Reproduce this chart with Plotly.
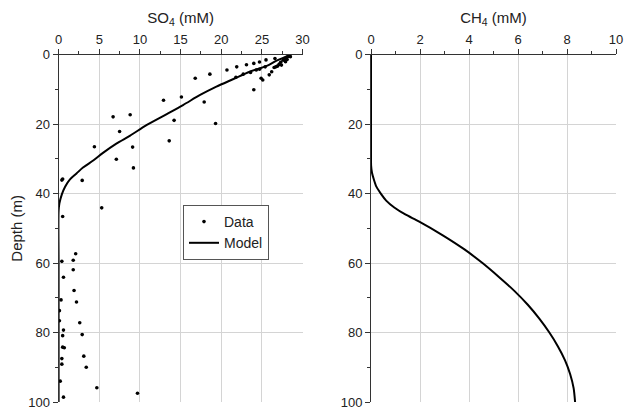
import plotly.graph_objects as go

# Measured sulfate data (SO4 in mM, depth in m)
so4_data = [16.8, 18.6, 20.7, 21.9, 23.1, 24.0, 24.7, 25.5, 26.6, 21.8, 22.7, 23.6, 24.3, 24.7,
            25.4, 24.9, 25.1, 24.0, 25.9, 26.2, 26.5, 26.7, 27.1, 27.3, 27.6, 27.8, 28.0, 28.2,
            28.4, 27.9, 28.1, 27.4, 26.9, 28.5,
            12.9, 15.1, 17.9, 19.3, 14.2, 13.6, 6.7, 8.8, 7.5, 9.1, 4.4, 7.1, 9.2, 0.4, 0.5,
            2.9, 5.3, 0.5, 2.1, 1.8, 0.4, 1.8, 0.6, 1.9, 2.2, 0.3, 0.1, 0.1, 2.6, 0.6, 2.9,
            0.5, 0.5, 0.7, 3.1, 0.4, 0.4, 3.4, 0.2, 4.7, 9.7, 0.6]
depth_data = [6.8, 5.6, 4.4, 3.5, 2.9, 2.5, 2.1, 1.5, 1.1, 6.5, 5.6, 5.1, 4.4, 4.2,
              3.5, 6.8, 7.3, 10.1, 5.8, 4.9, 3.7, 3.5, 2.8, 2.2, 1.6, 1.2, 0.8, 0.5,
              0.3, 2.0, 1.4, 3.0, 3.3, 0.6,
              13.1, 12.2, 13.6, 19.8, 18.9, 24.8, 17.9, 17.3, 22.1, 26.6, 26.5, 30.1, 32.6, 36.1, 35.8,
              36.2, 44.1, 46.6, 57.3, 59.2, 59.5, 61.9, 64.1, 67.9, 71.2, 70.6, 73.7, 76.6, 77.2, 79.3, 80.6,
              80.9, 84.2, 84.4, 86.8, 87.5, 89.1, 90.0, 94.0, 95.9, 97.5, 98.6]

# Model sulfate profile
so4_model = [28.6, 26.8, 25.6, 23.5, 21.5, 19.4, 17.4, 15.3, 13.3, 10.8, 8.8, 7.1, 5.5, 4.3,
             3.0, 2.2, 1.4, 0.8, 0.4, 0.1, 0.0, 0.0, 0.0]
so4_model_depth = [0.0, 1.7, 3.2, 4.9, 7.0, 9.2, 11.6, 14.5, 17.1, 20.3, 23.3, 25.6, 28.2, 30.4,
                   32.5, 34.2, 35.9, 38.0, 40.2, 42.8, 45.0, 60.0, 100.0]

# Model methane profile
ch4_model = [0.0, 0.0, 0.005, 0.04, 0.12, 0.22, 0.40, 0.62, 0.95, 1.40, 1.95, 2.93, 3.80, 4.55,
             5.22, 5.85, 6.40, 6.87, 7.28, 7.63, 7.92, 8.13, 8.27, 8.33]
ch4_model_depth = [0.0, 30.0, 32.0, 34.0, 36.0, 38.0, 40.0, 42.0, 44.0, 46.0, 48.0, 52.0, 56.0,
                   60.0, 64.0, 68.0, 72.0, 76.0, 80.0, 84.0, 88.0, 92.0, 96.0, 100.0]

so4_ticks = [0, 5, 10, 15, 20, 25, 30]
ch4_ticks = [0, 2, 4, 6, 8, 10]
depth_ticks = [0, 20, 40, 60, 80, 100]

FONT = "Liberation Sans, Arial, sans-serif"
AX = "#333333"
GRID = "#d4d4d4"
TXT = "#222222"

fig = go.Figure()
fig.add_trace(go.Scatter(x=so4_data, y=depth_data, mode="markers", name="Data",
                         marker=dict(color="black", size=3.6), xaxis="x", yaxis="y"))
fig.add_trace(go.Scatter(x=so4_model, y=so4_model_depth, mode="lines", name="Model",
                         line=dict(color="black", width=2, shape="spline", smoothing=0.9),
                         xaxis="x", yaxis="y"))
fig.add_trace(go.Scatter(x=ch4_model, y=ch4_model_depth, mode="lines", showlegend=False,
                         line=dict(color="black", width=2, shape="spline", smoothing=0.7),
                         xaxis="x2", yaxis="y2"))

def xax(domain, rng, ticks, dminor, title, anchor):
    return dict(domain=domain, range=rng, side="top", tickvals=ticks, anchor=anchor,
                automargin=False,
                showline=True, linecolor=AX, linewidth=1, ticks="outside", ticklen=5,
                tickcolor=AX, showgrid=True, gridcolor=GRID, gridwidth=1, zeroline=False,
                minor=dict(dtick=dminor, tick0=0, ticks="outside", ticklen=3, tickcolor=AX,
                           showgrid=False),
                tickfont=dict(size=13, color=TXT),
                title=dict(text=title, font=dict(size=15, color=TXT), standoff=4))

def yax(domain, anchor, title=None):
    d = dict(domain=domain, range=[100, 0], tickvals=depth_ticks, anchor=anchor,
             automargin=False,
             showline=True, linecolor=AX, linewidth=1, ticks="outside", ticklen=5,
             tickcolor=AX, showgrid=True, gridcolor=GRID, gridwidth=1, zeroline=False,
             minor=dict(dtick=10, tick0=0, ticks="outside", ticklen=3, tickcolor=AX,
                        showgrid=False),
             tickfont=dict(size=13, color=TXT))
    if title:
        d["title"] = dict(text=title, font=dict(size=15, color=TXT), standoff=2)
    return d

ydom = [1 - 402 / 411, 1 - 54.7 / 411]
fig.update_layout(
    width=624, height=411,
    margin=dict(l=0, r=0, t=0, b=0),
    paper_bgcolor="white", plot_bgcolor="white",
    font=dict(family=FONT, color=TXT),
    xaxis=xax([58.6 / 624, 302.6 / 624], [0, 30], so4_ticks, 2.5, "SO<sub>4</sub> (mM)", "y"),
    yaxis=yax(ydom, "x", "Depth (m)"),
    xaxis2=xax([371 / 624, 616 / 624], [0, 10], ch4_ticks, 1, "CH<sub>4</sub> (mM)", "y2"),
    yaxis2=yax(ydom, "x2"),
    legend=dict(x=183 / 624, y=1 - 205 / 411, xanchor="left", yanchor="top",
                bgcolor="white", bordercolor="#555", borderwidth=1,
                font=dict(size=14, color=TXT), tracegroupgap=0, itemwidth=30),
    showlegend=True,
)

fig.write_html("out.html")
